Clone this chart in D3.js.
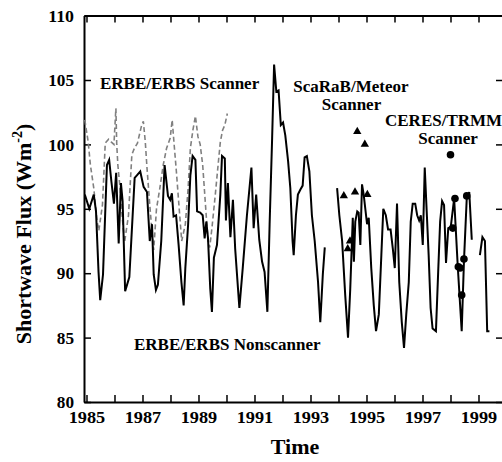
<!DOCTYPE html>
<html>
<head>
<meta charset="utf-8">
<script src="https://cdn.jsdelivr.net/npm/d3@7"></script>
<style>
html,body{margin:0;padding:0;background:#fff;}
svg{display:block;}
svg text{font-family:"Liberation Serif","Times New Roman",serif !important;font-weight:bold;fill:#000;}
</style>
</head>
<body>
<svg id="chart" width="502" height="462"></svg>
<script>
// ERBE/ERBS Nonscanner (solid line); null marks a data gap
const nonscannerYears = [
  1984.94,1985.10,1985.26,1985.34,1985.43,1985.49,1985.59,1985.73,1985.81,1985.89,1985.98,
  1986.06,1986.15,1986.23,1986.29,1986.38,1986.53,1986.72,1986.80,1986.92,
  1987.04,1987.16,1987.26,1987.34,1987.40,1987.48,1987.55,1987.67,1987.79,1987.91,1987.99,
  1988.05,1988.11,1988.20,1988.29,1988.39,1988.47,1988.53,1988.63,1988.71,1988.79,1988.89,1988.95,
  1989.06,1989.15,1989.22,1989.28,1989.34,1989.42,1989.48,1989.55,1989.66,1989.78,1989.84,1989.94,1989.98,
  1990.05,1990.14,1990.23,1990.31,1990.46,1990.58,1990.73,1990.89,1990.97,
  1991.06,1991.17,1991.27,1991.36,1991.46,1991.54,1991.63,1991.70,1991.78,1991.86,1991.94,
  1992.02,1992.10,1992.20,1992.28,1992.36,1992.40,1992.48,1992.55,1992.64,1992.72,1992.79,1992.87,1992.96,
  1993.05,1993.15,1993.27,1993.35,1993.44,1993.51,
  1993.73,
  1993.95,1994.03,1994.13,1994.24,1994.34,1994.42,1994.51,1994.55,1994.60,1994.67,1994.72,1994.78,1994.84,1994.90,
  1995.02,1995.08,1995.17,1995.26,1995.34,1995.44,1995.53,1995.60,1995.69,1995.77,1995.86,1995.94,
  1996.01,1996.09,1996.17,1996.26,1996.34,1996.42,1996.51,1996.58,1996.65,1996.74,1996.81,1996.88,1996.94,
  1997.01,1997.08,1997.15,1997.22,1997.29,1997.36,1997.48,1997.56,1997.63,1997.70,1997.77,1997.84,1997.92,
  1998.01,1998.13,1998.26,1998.40,1998.48,1998.58,1998.67,1998.76,
  1998.90,
  1999.05,1999.14,1999.23,1999.31,1999.39
];
const nonscannerFlux = [
  96.1,95.0,96.1,94.8,90.1,87.9,89.9,98.4,98.8,97.1,95.4,
  97.8,92.3,97.0,95.6,88.6,89.7,97.4,97.6,97.9,
  96.7,96.3,92.5,93.8,89.9,88.7,89.1,92.5,98.4,96.0,95.7,
  96.2,94.4,94.5,92.2,89.3,87.5,90.4,93.8,97.6,99.1,98.8,94.8,
  94.7,94.5,92.7,94.0,92.7,88.8,87.0,91.2,92.2,96.1,99.1,98.9,94.1,
  97.0,92.8,95.7,91.9,87.3,90.4,94.5,98.2,93.5,
  96.1,92.6,90.9,90.1,87.0,93.8,100.5,106.2,104.1,104.2,101.5,
  101.7,100.7,98.7,96.6,92.5,91.4,94.5,96.1,96.5,96.8,99.0,99.1,97.9,
  94.5,92.5,89.3,86.2,89.9,92.0,
  null,
  96.6,94.5,92.5,88.3,85.0,88.8,94.3,90.9,94.0,94.8,94.7,92.2,96.9,96.1,
  93.8,94.3,90.4,87.5,85.5,86.8,91.4,95.0,94.5,93.4,93.4,91.9,
  90.4,95.4,89.3,86.2,84.2,86.8,89.3,94.0,95.4,95.4,94.5,94.1,94.5,
  92.2,98.2,94.8,91.4,87.3,85.7,85.5,90.1,94.0,95.6,95.3,90.8,93.5,
  93.6,95.8,90.5,85.5,90.9,95.8,96.3,92.6,
  null,
  91.4,92.8,92.5,85.5,85.5
];

// ERBE/ERBS Scanner (dashed grey line)
const scannerYears = [
  1984.94,1985.06,1985.14,1985.26,1985.38,1985.44,1985.57,1985.67,1985.79,1985.88,1985.98,
  1986.05,1986.08,1986.12,1986.20,1986.27,1986.36,1986.50,1986.62,1986.71,1986.82,1986.96,
  1987.03,1987.10,1987.16,1987.26,1987.34,1987.40,1987.50,1987.62,1987.74,1987.86,1987.99,
  1988.06,1988.13,1988.21,1988.29,1988.40,1988.53,1988.63,1988.71,1988.80,1988.89,1988.98,
  1989.06,1989.15,1989.24,1989.34,1989.40,1989.48,1989.60,1989.70,1989.78,1989.86,1989.94,
  1990.03
];
const scannerFlux = [
  101.9,100.2,98.4,96.6,94.0,93.3,95.3,100.1,100.4,100.2,100.0,
  102.8,100.0,98.4,96.6,94.5,92.4,94.5,99.2,99.7,100.1,101.4,
  101.8,100.2,98.2,95.3,93.2,91.8,95.0,96.6,98.4,99.7,100.5,
  101.9,100.0,97.9,95.6,92.5,93.8,96.6,99.7,101.1,102.2,100.6,
  100.0,98.4,95.6,92.5,92.0,93.5,96.1,98.4,100.2,101.1,101.5,
  102.4
];

// ScaRaB/Meteor Scanner (triangles)
const scarabYears = [1994.19,1994.33,1994.41,1994.59,1994.67,1994.94,1995.03];
const scarabFlux  = [96.0,91.9,92.5,96.3,101.0,100.0,96.1];

// CERES/TRMM Scanner (filled circles)
const ceresYears = [1998.00,1998.08,1998.16,1998.28,1998.34,1998.40,1998.48,1998.58];
const ceresFlux  = [99.2,93.5,95.8,90.5,90.4,88.3,91.1,96.0];

const yearTicks = d3.range(1985, 2000);
const fluxTicks = [80,85,90,95,100,105,110];

const FONT = '"Liberation Serif","Times New Roman",serif';
const svg = d3.select("#chart");
const x = d3.scaleLinear().domain([1984.911, 1999.875]).range([84, 503]);
const y = d3.scaleLinear().domain([80, 110]).range([402, 15.6]);

const X0 = x.range()[0], X1 = x.range()[1], Y0 = y.range()[0], Y1 = y.range()[1];

// axes (inward ticks)
function styleAxis(g){
  g.attr("font-family", FONT).attr("font-weight","bold");
  g.select(".domain").attr("stroke","#000").attr("stroke-width",2);
  g.selectAll(".tick line").attr("stroke","#000").attr("stroke-width",1.5);
}
const gB = svg.append("g").attr("transform",`translate(0,${Y0})`)
  .call(d3.axisBottom(x).tickValues(yearTicks).tickSizeInner(-7).tickSizeOuter(0)
        .tickFormat(d => d % 2 === 1 ? String(d) : ""));
styleAxis(gB);
gB.selectAll(".tick text")
  .attr("y", 21).attr("dy", 0)
  .attr("font-size", 16)
  .attr("textLength", d => d % 2 === 1 ? 36.5 : null)
  .attr("lengthAdjust", "spacingAndGlyphs");

const gT = svg.append("g").attr("transform",`translate(0,${Y1})`)
  .call(d3.axisTop(x).tickValues(yearTicks).tickSizeInner(-7).tickSizeOuter(0).tickFormat(""));
styleAxis(gT);

const gL = svg.append("g").attr("transform",`translate(${X0},0)`)
  .call(d3.axisLeft(y).tickValues(fluxTicks).tickSizeInner(-7).tickSizeOuter(0).tickPadding(10));
styleAxis(gL);
gL.selectAll(".tick text")
  .attr("x", -10).attr("dy", "0.36em")
  .attr("font-size", 16)
  .attr("textLength", d => String(d).length * 8.6)
  .attr("lengthAdjust", "spacingAndGlyphs");

const gR = svg.append("g").attr("transform",`translate(${X1},0)`)
  .call(d3.axisRight(y).tickValues(fluxTicks).tickSizeInner(-7).tickSizeOuter(0).tickFormat(""));
styleAxis(gR);

// dashed scanner line
const scanner = scannerYears.map((t,i)=>({t, v: scannerFlux[i]}));
svg.append("path").datum(scanner)
  .attr("fill","none").attr("stroke","#808080").attr("stroke-width",1.6)
  .attr("stroke-dasharray","5,3")
  .attr("d", d3.line().x(d=>x(d.t)).y(d=>y(d.v)));

// solid nonscanner line
const nons = nonscannerYears.map((t,i)=>({t, v: nonscannerFlux[i]}));
svg.append("path").datum(nons)
  .attr("fill","none").attr("stroke","#000").attr("stroke-width",2)
  .attr("d", d3.line().defined(d=>d.v!=null).x(d=>x(d.t)).y(d=>y(d.v)));

// ScaRaB triangles
svg.append("g").selectAll("path").data(scarabYears.map((t,i)=>({t, v: scarabFlux[i]})))
  .join("path")
  .attr("transform", d=>`translate(${x(d.t)},${y(d.v)})`)
  .attr("d", d3.symbol().type(d3.symbolTriangle).size(30))
  .attr("fill","#000");

// CERES circles
svg.append("g").selectAll("circle").data(ceresYears.map((t,i)=>({t, v: ceresFlux[i]})))
  .join("circle")
  .attr("cx", d=>x(d.t)).attr("cy", d=>y(d.v)).attr("r",3.8)
  .attr("fill","#000");

// annotations
const notes = [
  {s:"ERBE/ERBS Scanner", x:100, y:89},
  {s:"ERBE/ERBS Nonscanner", x:134, y:350},
  {s:"ScaRaB/Meteor", x:293.3, y:92},
  {s:"Scanner", x:321.7, y:109.5},
  {s:"CERES/TRMM", x:385, y:126},
  {s:"Scanner", x:418.3, y:143.5}
];
svg.append("g").selectAll("text").data(notes).join("text")
  .attr("x", d=>d.x).attr("y", d=>d.y).attr("font-size", 17).text(d=>d.s);

// axis titles
svg.append("text").attr("x", 295).attr("y", 454).attr("text-anchor","middle")
  .attr("font-size", 22).text("Time");

const yl = svg.append("text").attr("transform","translate(31,234) rotate(-90)")
  .attr("text-anchor","middle").attr("font-size", 22);
yl.append("tspan").text("Shortwave Flux (Wm");
yl.append("tspan").attr("font-size", 14).attr("dy", -9).text("-2");
yl.append("tspan").attr("dy", 9).text(")");
</script>
</body>
</html>
